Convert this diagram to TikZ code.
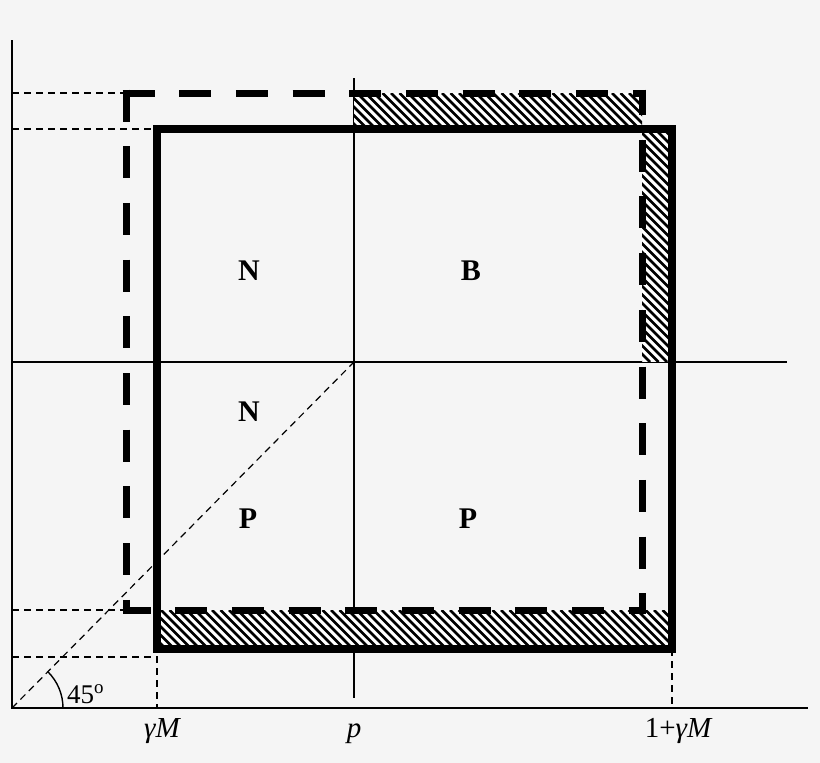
\documentclass[tikz,border=0pt]{standalone}
\usepackage{fontspec}
\setmainfont{Liberation Serif}
\definecolor{bg}{RGB}{245,245,245}
\begin{document}
\begin{tikzpicture}[x=1pt,y=-1pt,
  thinax/.style={line width=1.6pt},
  guide/.style={line width=1.2pt, dash pattern=on 7pt off 5pt},
  solidbox/.style={line width=8pt, line join=miter},
  dashside/.style={line width=7pt, dash pattern=on 32pt off 24.7pt},
  hatchline/.style={line width=2.8pt},
  lbl/.style={font=\fontsize{30}{30}\selectfont\bfseries, inner sep=0pt, anchor=base},
  axl/.style={font=\fontsize{29}{29}\selectfont, inner sep=0pt, anchor=base}]
\fill[bg] (0,0) rectangle (820,763);
\useasboundingbox (0,0) rectangle (820,763);
% coordinates
\coordinate (O) at (12,708);
\coordinate (Ytop) at (12,40);
\coordinate (Xend) at (808,708);
\coordinate (Hl) at (12,362);
\coordinate (Hr) at (787,362);
\coordinate (Vt) at (354,78);
\coordinate (Vb) at (354,698);
\coordinate (C) at (354,362);
% axes and thin lines
\draw[thinax] (Ytop) -- (O) -- (Xend);
\draw[thinax] (Hl) -- (Hr);
\draw[thinax] (Vt) -- (Vb);
% guides
\draw[guide] (12,93) -- (126,93);
\draw[guide] (12,129) -- (157,129);
\draw[guide] (12,610) -- (126,610);
\draw[guide] (12,657) -- (157,657) -- (157,708);
\draw[guide] (672,649) -- (672,708);
\draw[guide] (O) -- (C);
% angle
\draw[line width=1.4pt] (63,708) arc[start angle=0, end angle=-45, radius=51];
\node[axl, anchor=base west, font=\fontsize{27}{27}\selectfont] (ang) at (67,703) {45\textsuperscript{o}};
% hatched regions
\fill[white] (354,93) rectangle (642,129);
\fill[white] (642,129) rectangle (672,362);
\fill[white] (157,610) rectangle (672,649);
\begin{scope}
\clip (354,93) rectangle (642,129);
\foreach \x in {306,314.5,...,650} \draw[hatchline] (\x,93) -- ++(36,36);
\end{scope}
\begin{scope}
\clip (642,129) rectangle (672,362);
\foreach \x in {400,408.5,...,680} \draw[hatchline] (\x,129) -- ++(233,233);
\end{scope}
\begin{scope}
\clip (157,610) rectangle (672,649);
\foreach \x in {110,118.5,...,680} \draw[hatchline] (\x,610) -- ++(39,39);
\end{scope}
% solid box
\draw[solidbox] (157,129) rectangle (672,649);
% dashed box, side by side
\draw[dashside] (122.5,93) -- (645.5,93);
\draw[dashside] (126,89.5) -- (126,613.5);
\draw[dashside, dash phase=6.5pt] (642,89.5) -- (642,613.5);
\draw[dashside, dash phase=4pt] (122.5,610) -- (645.5,610);
% labels
\node[lbl] (n1) at (249,280) {N};
\node[lbl] (b1) at (471,280) {B};
\node[lbl] (n2) at (249,421) {N};
\node[lbl] (p1) at (248,528) {P};
\node[lbl] (p2) at (468,528) {P};
\node[axl] (gm) at (162,737) {\itshape γM};
\node[axl] (pp) at (354,737) {\itshape p};
\node[axl] (gm1) at (678,737) {1+\itshape γM};
\end{tikzpicture}
\end{document}
